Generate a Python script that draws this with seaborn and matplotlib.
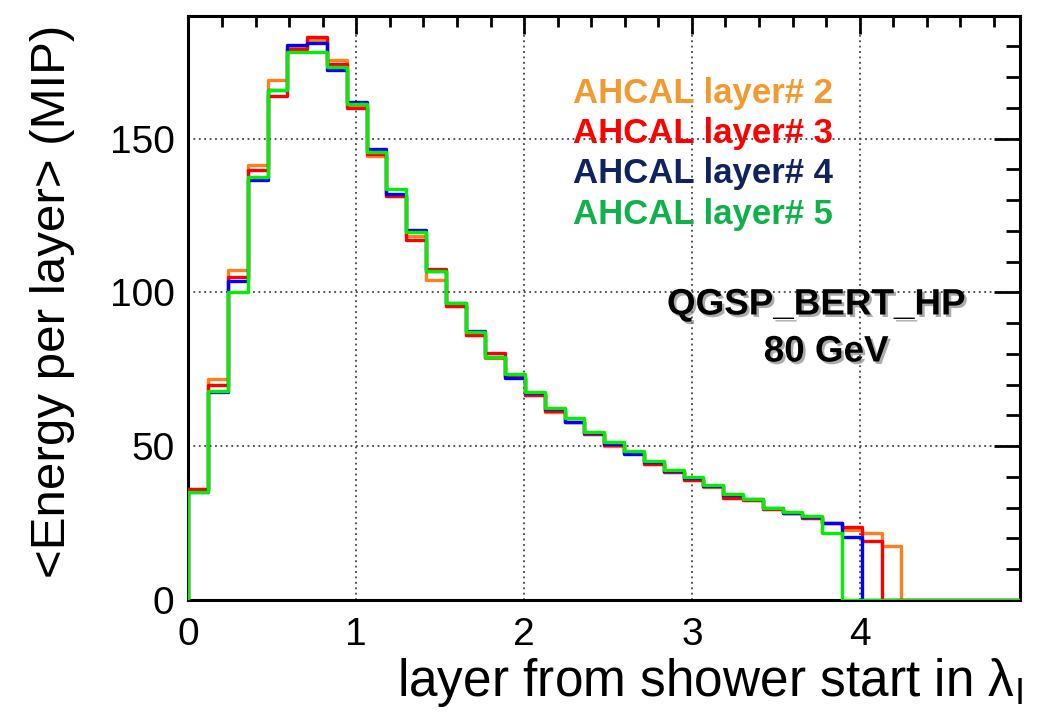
import numpy as np
import pandas as pd
import seaborn as sns
import matplotlib.pyplot as plt
import matplotlib.patheffects as pe
from matplotlib.ticker import MultipleLocator

# Longitudinal shower profile: mean energy per AHCAL layer (MIP) vs depth
layer_lambda = 0.118   # depth of one layer in nuclear interaction lengths
n_layers = 42

e_layer2 = [36.0, 72.0, 107.4, 141.3, 169.0, 179.5, 182.0, 175.5, 160.5, 144.5,
            131.3, 118.3, 104.1, 95.6, 86.1, 78.8, 72.5, 66.8, 61.2, 58.0,
            54.0, 50.0, 47.8, 44.3, 41.7, 38.9, 36.7, 33.0, 32.6, 29.5,
            28.2, 26.6, 25.0, 22.8, 21.7, 17.6]
e_layer3 = [36.0, 70.0, 105.0, 139.7, 164.0, 179.3, 183.1, 174.4, 160.0, 145.0,
            131.3, 117.2, 107.6, 95.6, 86.1, 80.2, 72.5, 66.8, 61.5, 58.0,
            53.9, 50.3, 47.8, 44.3, 41.5, 38.9, 37.0, 33.0, 32.6, 29.6,
            28.3, 26.7, 25.0, 23.6, 19.3]
e_layer4 = [35.0, 67.5, 103.8, 136.6, 165.7, 180.4, 181.0, 172.2, 162.0, 146.7,
            132.0, 120.3, 107.0, 96.5, 87.5, 79.1, 72.3, 67.2, 62.0, 57.8,
            54.3, 50.8, 47.5, 44.8, 42.0, 39.7, 37.2, 34.0, 32.8, 29.8,
            28.4, 26.8, 25.0, 20.4]
e_layer5 = [35.0, 68.0, 100.3, 137.5, 166.0, 178.2, 178.2, 173.3, 161.4, 145.7,
            133.5, 119.6, 107.1, 96.7, 87.0, 79.1, 73.5, 67.6, 62.5, 59.2,
            54.6, 51.3, 48.4, 45.3, 42.4, 40.0, 37.5, 34.5, 32.9, 29.9,
            28.6, 27.2, 21.7]

series_names = ["AHCAL layer# 2", "AHCAL layer# 3", "AHCAL layer# 4", "AHCAL layer# 5"]
series_values = [e_layer2, e_layer3, e_layer4, e_layer5]
line_colors = ["#ff7f1e", "#ff0000", "#0000ff", "#00f000"]
text_colors = ["#f29a30", "#ff0000", "#10235f", "#10b04a"]

edges = np.arange(n_layers + 1) * layer_lambda
centers = edges[:-1] + layer_lambda / 2

frames = []
for name, vals in zip(series_names, series_values):
    full = np.zeros(n_layers)
    full[:len(vals)] = vals
    frames.append(pd.DataFrame({"depth": centers, "energy": full, "series": name}))
df = pd.concat(frames, ignore_index=True)

sns.set_theme(style="white")
plt.rcParams["font.family"] = ["Liberation Sans", "DejaVu Sans"]
plt.rcParams["mathtext.fontset"] = "custom"
plt.rcParams["mathtext.rm"] = "Liberation Sans"
plt.rcParams["mathtext.it"] = "Liberation Sans:italic"
plt.rcParams["text.color"] = "black"
plt.rcParams["axes.labelcolor"] = "black"

fig = plt.figure(figsize=(10.41, 7.15), dpi=100)
ax = fig.add_axes([0.181, 0.161, 0.799, 0.817])

for name, col in zip(series_names, line_colors):
    sub = df[df["series"] == name]
    sns.histplot(data=sub, x="depth", weights="energy",
                 binwidth=layer_lambda, binrange=(edges[0], edges[-1]),
                 element="step", fill=False, color=col, linewidth=2.4,
                 ax=ax, zorder=3)
    ax.vlines(edges[0], 0, sub["energy"].iloc[0], color=col, linewidth=2.4, zorder=3)

ax.set_xlim(0, edges[-1])
ax.set_ylim(0, 190)

ax.xaxis.set_major_locator(MultipleLocator(1))
ax.xaxis.set_minor_locator(MultipleLocator(0.2))
ax.yaxis.set_major_locator(MultipleLocator(50))
ax.yaxis.set_minor_locator(MultipleLocator(10))

ax.tick_params(axis="both", which="both", direction="in", top=True, right=True,
               colors="black", width=2.0, labelsize=28)
ax.tick_params(axis="x", which="major", length=13, pad=12)
ax.tick_params(axis="x", which="minor", length=8)
ax.tick_params(axis="y", which="major", length=19, pad=10)
ax.tick_params(axis="y", which="minor", length=10)

for s in ax.spines.values():
    s.set_color("black")
    s.set_linewidth(2.2)
    s.set_visible(True)

ax.grid(True, which="major", color="#444444", linestyle=(0, (1, 2)), linewidth=1.3)
ax.set_axisbelow(True)

ax.set_ylabel("<Energy per layer> (MIP)", fontsize=35.5, color="black")
ax.yaxis.set_label_coords(-0.163, 0.511)
ax.yaxis.label.set_verticalalignment("center")
ax.set_xlabel("layer from shower start in λ$_{\\rm I}$", fontsize=37, color="black")
ax.xaxis.set_label_coords(1.003, -0.142)
ax.xaxis.label.set_horizontalalignment("right")
ax.xaxis.label.set_verticalalignment("center")

fig_w, fig_h = 1041, 715
for i, (name, tc) in enumerate(zip(series_names, text_colors)):
    fig.text(573 / fig_w, 1 - (93 + 40.5 * i) / fig_h, name, color=tc,
             fontsize=25, fontweight="bold", ha="left", va="center")

shadow = [pe.withSimplePatchShadow(offset=(1.8, -1.8), shadow_rgbFace="#888888", alpha=0.7)]
fig.text(816 / fig_w, 1 - 305 / fig_h, "QGSP_BERT_HP", color="black", fontsize=26.5,
         fontweight="bold", ha="center", va="center", path_effects=shadow)
fig.text(826 / fig_w, 1 - 352 / fig_h, "80 GeV", color="black", fontsize=26.5,
         fontweight="bold", ha="center", va="center", path_effects=shadow)

fig.savefig("out.png", dpi=100)
